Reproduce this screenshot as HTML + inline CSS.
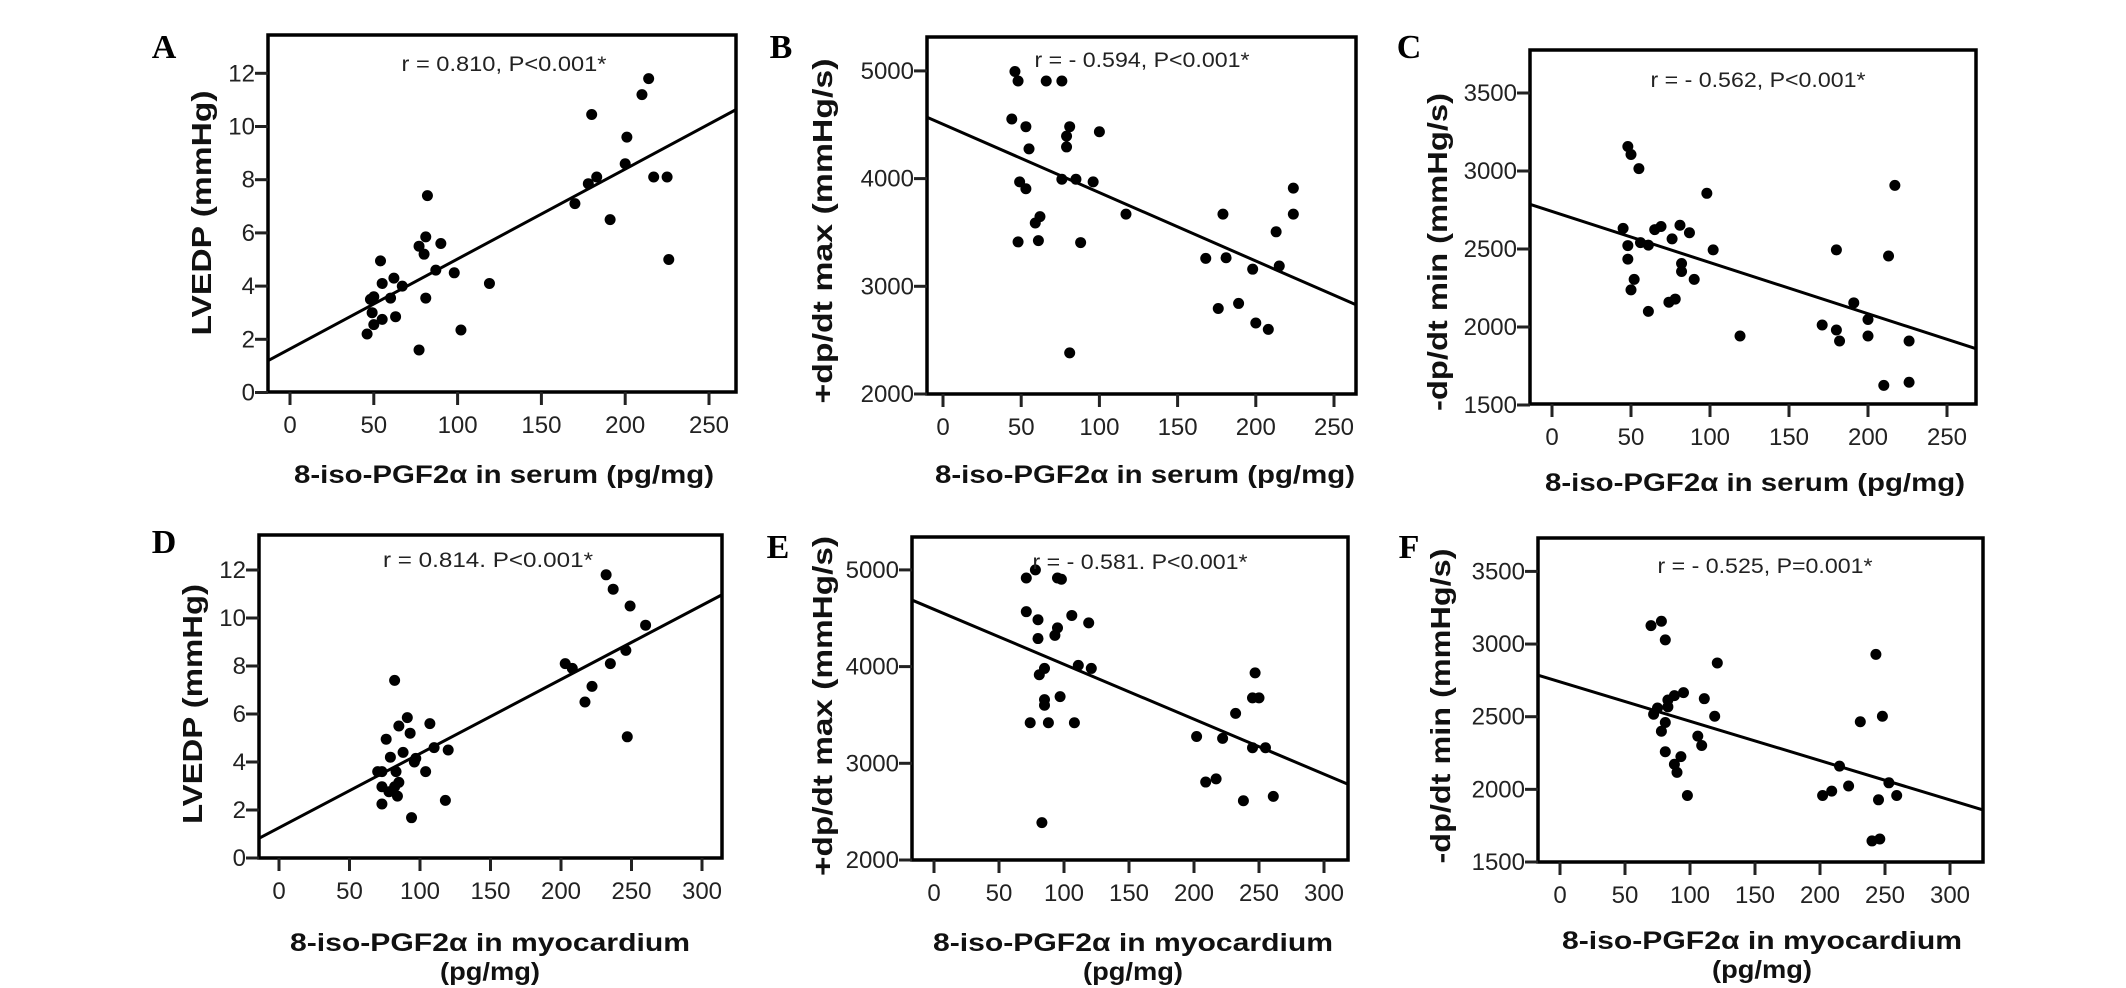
<!DOCTYPE html>
<html><head><meta charset="utf-8"><style>
html,body{margin:0;padding:0;background:#fff;}
svg{display:block;}
</style></head><body>
<svg id="fig" width="2126" height="988" viewBox="0 0 2126 988" xmlns="http://www.w3.org/2000/svg"></svg>
<script>
// ---- data ----
const aX=[214,210,180,201,200,183,178,217,225,170,191,226,82,81,77,80,90,87,98,119,54,55,62,67,60,50,48,81,49,55,50,63,46,102,77];
const aY=[11.8,11.2,10.45,9.6,8.6,8.1,7.85,8.1,8.1,7.1,6.5,5.0,7.4,5.85,5.5,5.2,5.6,4.6,4.5,4.1,4.95,4.1,4.3,4.0,3.55,3.6,3.5,3.55,3.0,2.75,2.55,2.85,2.2,2.35,1.6];
const bX=[46,48,66,76,44,53,55,81,79,79,100,49,53,76,85,96,117,62,59,48,61,88,81,179,224,224,213,168,181,215,198,176,189,200,208];
const bY=[4994,4906,4906,4906,4553,4482,4276,4482,4394,4294,4435,3970,3906,3994,3994,3970,3670,3647,3588,3412,3424,3406,2382,3670,3912,3670,3506,3259,3265,3188,3159,2794,2841,2659,2600];
const cX=[48,50,55,98,45,48,56,61,65,69,81,87,76,102,48,52,50,82,82,90,78,74,61,119,180,217,213,191,171,180,182,200,200,226,210,226];
const cY=[3157,3106,3015,2857,2632,2522,2541,2525,2624,2644,2652,2604,2565,2494,2435,2305,2238,2407,2356,2305,2179,2159,2100,1942,2494,2908,2455,2155,2013,1981,1910,2048,1942,1910,1626,1646];
const dX=[232,237,249,260,246,235,203,208,222,217,247,82,91,85,93,107,76,110,120,79,88,97,96,73,70,83,104,82,78,84,73,85,118,94,73];
const dY=[11.8,11.2,10.5,9.7,8.65,8.1,8.1,7.9,7.15,6.5,5.05,7.4,5.85,5.5,5.2,5.6,4.95,4.6,4.5,4.2,4.4,4.15,4.0,3.6,3.6,3.6,3.6,2.97,2.76,2.58,2.25,3.15,2.4,1.68,2.97];
const eX=[71,78,95,98,71,80,106,119,80,93,95,85,81,111,121,97,85,85,74,88,108,83,202,222,232,245,250,247,245,255,209,217,238,261];
const eY=[4916,5000,4916,4903,4568,4484,4529,4452,4290,4323,4400,3981,3916,4013,3981,3690,3658,3600,3419,3419,3419,2387,3277,3258,3516,3677,3677,3935,3161,3161,2806,2839,2613,2658];
const fX=[70,78,81,121,95,88,83,83,111,75,72,81,119,106,78,109,81,88,93,90,98,243,248,231,215,202,209,222,253,259,245,240,246];
const fY=[3127,3157,3029,2870,2666,2645,2615,2568,2624,2560,2517,2460,2503,2366,2400,2302,2259,2173,2225,2117,1958,2929,2503,2465,2160,1958,1988,2023,2045,1958,1928,1645,1658];
// regression lines: intercept, slope
const fitA=[1.64,0.0338], fitB=[4505,-6.35], fitC=[2741,-3.28], fitD=[1.26,0.0309], fitE=[4592,-5.68], fitF=[2740,-2.71];
const ticksA=[0,2,4,6,8,10,12], ticksB=[2000,3000,4000,5000], ticksC=[1500,2000,2500,3000,3500];
const xticks250=[0,50,100,150,200,250], xticks300=[0,50,100,150,200,250,300];
const NS='http://www.w3.org/2000/svg';
const svg=document.getElementById('fig');
function mk(tag,attrs,parent){const e=document.createElementNS(NS,tag);for(const k in attrs)e.setAttribute(k,attrs[k]);(parent||svg).appendChild(e);return e;}
const panels=[
 {id:'a',L:268,R:736,T:35,B:392,x0:290,xs:1.676,y0v:0,y0p:392.5,ys:26.6,X:aX,Y:aY,fit:fitA,yt:ticksA,xt:xticks250,letter:'A',lx:164,ly:58,stat:'r = 0.810, P<0.001*',sx:504,sy:64,statW:205,
  ytitle:'LVEDP (mmHg)',ytx:201,yty:213,ytW:245,xtitle:['8-iso-PGF2α in serum (pg/mg)'],xtx:504,xty:[474],xtW:[420]},
 {id:'b',L:927,R:1356,T:37,B:394,x0:943,xs:1.564,y0v:2000,y0p:394,ys:0.1077,X:bX,Y:bY,fit:fitB,yt:ticksB,xt:xticks250,letter:'B',lx:781,ly:58,stat:'r = - 0.594, P<0.001*',sx:1142,sy:60,statW:215,
  ytitle:'+dp/dt max (mmHg/s)',ytx:822,yty:231,ytW:345,xtitle:['8-iso-PGF2α in serum (pg/mg)'],xtx:1145,xty:[474],xtW:[420]},
 {id:'c',L:1530,R:1976,T:50,B:404,x0:1552,xs:1.58,y0v:1500,y0p:405,ys:0.156,X:cX,Y:cY,fit:fitC,yt:ticksC,xt:xticks250,letter:'C',lx:1409,ly:58,stat:'r = - 0.562, P<0.001*',sx:1758,sy:80,statW:215,
  ytitle:'-dp/dt min (mmHg/s)',ytx:1437,yty:252,ytW:318,xtitle:['8-iso-PGF2α in serum (pg/mg)'],xtx:1755,xty:[482],xtW:[420]},
 {id:'d',L:259,R:722,T:535,B:858,x0:279,xs:1.41,y0v:0,y0p:858,ys:24,X:dX,Y:dY,fit:fitD,yt:ticksA,xt:xticks300,letter:'D',lx:164,ly:553,stat:'r =  0.814. P<0.001*',sx:488,sy:560,statW:210,
  ytitle:'LVEDP (mmHg)',ytx:192,yty:704,ytW:240,xtitle:['8-iso-PGF2α in  myocardium','(pg/mg)'],xtx:490,xty:[942,971],xtW:[400,100]},
 {id:'e',L:912,R:1348,T:537,B:860,x0:934,xs:1.3,y0v:2000,y0p:860,ys:0.0967,X:eX,Y:eY,fit:fitE,yt:ticksB,xt:xticks300,letter:'E',lx:778,ly:558,stat:'r = - 0.581. P<0.001*',sx:1140,sy:562,statW:215,
  ytitle:'+dp/dt max (mmHg/s)',ytx:822,yty:706,ytW:340,xtitle:['8-iso-PGF2α in  myocardium','(pg/mg)'],xtx:1133,xty:[942,971],xtW:[400,100]},
 {id:'f',L:1538,R:1983,T:538,B:862,x0:1560,xs:1.3,y0v:1500,y0p:862,ys:0.1453,X:fX,Y:fY,fit:fitF,yt:ticksC,xt:xticks300,letter:'F',lx:1409,ly:558,stat:'r = - 0.525, P=0.001*',sx:1765,sy:566,statW:215,
  ytitle:'-dp/dt min (mmHg/s)',ytx:1440,yty:706,ytW:315,xtitle:['8-iso-PGF2α in myocardium','(pg/mg)'],xtx:1762,xty:[940,969],xtW:[400,100]}
];
const F='"Liberation Sans", Arial, sans-serif';
panels.forEach(p=>{
  const g=mk('g',{});
  
  
  const sx=v=>p.x0+v*p.xs, sy=v=>p.y0p-(v-p.y0v)*p.ys;
  const fr=mk('rect',{x:p.L,y:p.T,width:p.R-p.L,height:p.B-p.T,fill:'none',stroke:'#000','stroke-width':3.5},g);
  
  
  p.yt.forEach(t=>{
    const y=sy(t);
    const tl=mk('line',{x1:p.L-13,x2:p.L,y1:y,y2:y,stroke:'#222','stroke-width':3},g);
    
    
    const tx=mk('text',{x:p.L-13,y:y+8,'text-anchor':'end','font-family':F,'font-size':24,fill:'#222'},g);
    tx.textContent=t;
    
    
  });
  p.xt.forEach(t=>{
    const x=sx(t);
    const tl=mk('line',{x1:x,x2:x,y1:p.B,y2:p.B+13,stroke:'#222','stroke-width':3},g);
    
    
    const tx=mk('text',{x:x,y:p.B+41,'text-anchor':'middle','font-family':F,'font-size':24,fill:'#222'},g);
    tx.textContent=t;
    
    
  });
  const xa=(p.L-p.x0)/p.xs, xb=(p.R-p.x0)/p.xs;
  const ln=mk('line',{x1:p.L,y1:sy(p.fit[0]+p.fit[1]*xa),x2:p.R,y2:sy(p.fit[0]+p.fit[1]*xb),stroke:'#000','stroke-width':3},g);
  
  
  p.X.forEach((v,i)=>{
    const c=mk('circle',{cx:sx(v),cy:sy(p.Y[i]),r:5.5,fill:'#000'},g);
    
    
  });
  const L=mk('text',{x:p.lx,y:p.ly,'text-anchor':'middle','font-family':'"Liberation Serif", serif','font-weight':'bold','font-size':34,fill:'#000'},g);
  L.textContent=p.letter;
  
  
  const s=mk('text',{x:p.sx,y:p.sy+7,'text-anchor':'middle','font-family':F,'font-size':21,fill:'#222',textLength:p.statW,lengthAdjust:'spacingAndGlyphs'},g);
  s.textContent=p.stat;
  
  
  const yt=mk('text',{x:0,y:0,'text-anchor':'middle','font-family':F,'font-weight':'bold','font-size':28,fill:'#111',textLength:p.ytW,lengthAdjust:'spacingAndGlyphs',transform:'translate('+(p.ytx+10)+','+p.yty+') rotate(-90)'},g);
  yt.textContent=p.ytitle;
  
  
  p.xtitle.forEach((t,i)=>{
    const xt=mk('text',{x:p.xtx,y:p.xty[i]+9,'text-anchor':'middle','font-family':F,'font-weight':'bold','font-size':25,fill:'#111',textLength:p.xtW[i],lengthAdjust:'spacingAndGlyphs'},g);
    xt.textContent=t;
    
    
  });
});
</script>
</body></html>
